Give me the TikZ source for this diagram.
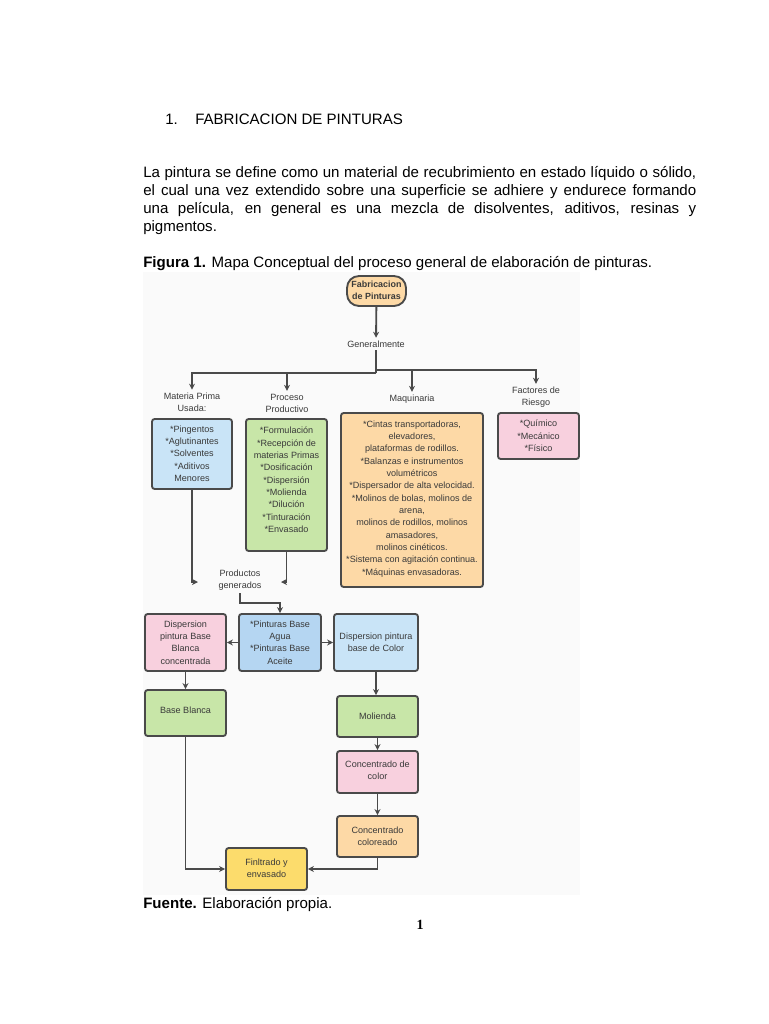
\documentclass[tikz,border=0pt]{standalone}
\usepackage{fontspec}
\setmainfont{Liberation Sans}
\newfontfamily\numfont{Liberation Serif}
\usetikzlibrary{arrows.meta,fit}
\definecolor{bord}{HTML}{4A4A4A}
\definecolor{txt}{HTML}{3A3A3A}
\definecolor{corange}{HTML}{FDD9A6}
\definecolor{cblue}{HTML}{C9E4F7}
\definecolor{cbluetwo}{HTML}{B5D6F2}
\definecolor{cgreen}{HTML}{C8E6A8}
\definecolor{cpink}{HTML}{F8D0DE}
\definecolor{cyellow}{HTML}{FCDC6C}
\definecolor{figbg}{HTML}{FAFAFA}
\begin{document}
\begin{tikzpicture}[x=0.75pt,y=-0.75pt,
  box/.style={draw=bord, line width=1.4pt, rounded corners=2pt, inner sep=0pt},
  btext/.style={align=center, inner sep=0pt, font=\fontsize{6.8}{9.25}\selectfont, text=txt},
  lbl/.style={align=center, inner sep=2pt, font=\fontsize{6.8}{9.1}\selectfont, text=txt},
  conn/.style={draw=bord, line width=1.4pt},
  arr/.style={conn, -{Stealth[length=4.5pt,width=4.5pt]}},
  body/.style={anchor=base west, inner sep=0pt, font=\fontsize{11.3}{13.5}\selectfont}
]
\useasboundingbox (0,0) rectangle (768,1024);
\fill[white] (0,0) rectangle (768,1024);
\fill[figbg] (143,272) rectangle (580,895);

% document text
\node[body] (num) at (165,124) {1.};
\node[body] (head) at (195,124) {FABRICACION DE PINTURAS};
\node[body] (p1) at (143,177) {\makebox[414.75pt][s]{La pintura se define como un material de recubrimiento en estado líquido o sólido,}};
\node[body] (p2) at (143,195) {\makebox[414.75pt][s]{el cual una vez extendido sobre una superficie se adhiere y endurece formando}};
\node[body] (p3) at (143,213) {\makebox[414.75pt][s]{una película, en general es una mezcla de disolventes, aditivos, resinas y}};
\node[body] (p4) at (143,231) {pigmentos.};
\node[body] (fig) at (143,267) {\textbf{Figura 1.} Mapa Conceptual del proceso general de elaboración de pinturas.};
\node[body] (src) at (143,908) {\textbf{Fuente.} Elaboración propia.};
\node[anchor=base, inner sep=0pt, font=\numfont\bfseries\fontsize{10.5}{12}\selectfont] (pg) at (420,929) {1};

% top of diagram
\node[box, rounded corners=9pt, fill=corange, fit={(347,276)(406,306)}] (fab) {};
\node[btext, font=\bfseries\fontsize{6.7}{9.2}\selectfont] (fabt) at ([yshift=0.6pt]fab.center) {Fabricacion\\de Pinturas};
\node[lbl] (gen) at (376,344) {Generalmente};
\draw[arr] (fab) -- (gen);
\coordinate (jl) at (376,373);
\coordinate (jr) at (376,370);
\draw[conn] (gen) -- (jl);

\node[lbl] (matl) at (192,402) {Materia Prima\\Usada:};
\node[lbl] (prol) at (287,403) {Proceso\\Productivo};
\node[lbl] (maql) at (412,399) {Maquinaria};
\node[lbl] (facl) at (536,397) {Factores de\\Riesgo};

\draw[arr] (jl) -| (matl.north);
\draw[arr] (jl) -| (prol.north);
\draw[arr] (jr) -| (maql.north);
\draw[arr] (jr) -| (facl.north);

\node[box, fill=cblue, fit={(152,419)(232,489)}] (mat) {};
\node[btext] (matt) at ([yshift=0.2pt]mat.center) {*Pingentos\\{}*Aglutinantes\\{}*Solventes\\{}*Aditivos\\Menores};
\node[box, fill=cgreen, fit={(246,419)(327,551)}] (pro) {};
\node[btext] (prot) at ([yshift=3.8pt]pro.center) {*Formulación\\{}*Recepción de\\materias Primas\\{}*Dosificación\\{}*Dispersión\\{}*Molienda\\{}*Dilución\\{}*Tinturación\\{}*Envasado};
\node[box, fill=corange, fit={(341,413)(483,587)}] (maq) {};
\node[btext] (maqt) at ([yshift=0.8pt]maq.center) {*Cintas transportadoras,\\elevadores,\\plataformas de rodillos.\\{}*Balanzas e instrumentos\\volumétricos\\{}*Dispersador de alta velocidad.\\{}*Molinos de bolas, molinos de\\arena,\\molinos de rodillos, molinos\\amasadores,\\molinos cinéticos.\\{}*Sistema con agitación continua.\\{}*Máquinas envasadoras.};
\node[box, fill=cpink, fit={(498,413)(579,459)}] (fac) {};
\node[btext] (fact) at ([yshift=0.2pt]fac.center) {*Químico\\{}*Mecánico\\{}*Físico};

% productos generados
\node[lbl] (prod) at (240,580) {Productos\\generados};
\coordinate (pgl) at (198,582);
\coordinate (pgr) at (281,582);
\coordinate (pk) at (240,603);
\draw[arr] (mat.south) |- (pgl);
\draw[arr] (pro.south) |- (pgr);

% second part
\node[box, fill=cpink, fit={(145,614)(226,671)}] (dbb) {};
\node[btext] (dbbt) at (dbb.center) {Dispersion\\pintura Base\\Blanca\\concentrada};
\node[box, fill=cbluetwo, fit={(239,614)(321,671)}] (pin) {};
\node[btext] (pint) at (pin.center) {*Pinturas Base\\Agua\\{}*Pinturas Base\\Aceite};
\node[box, fill=cblue, fit={(334,614)(418,671)}] (dbc) {};
\node[btext] (dbct) at (dbc.center) {Dispersion pintura\\base de Color};
\node[box, fill=cgreen, fit={(145,690)(226,736)}] (bbl) {};
\node[btext] (bblt) at ([yshift=2.2pt]bbl.center) {Base Blanca};
\node[box, fill=cgreen, fit={(337,696)(418,737)}] (mol) {};
\node[btext] (molt) at (mol.center) {Molienda};
\node[box, fill=cpink, fit={(337,751)(418,793)}] (ccl) {};
\node[btext] (cclt) at ([yshift=1.2pt]ccl.center) {Concentrado de\\color};
\node[box, fill=corange, fit={(337,816)(418,857)}] (cco) {};
\node[btext] (ccot) at ([yshift=0.4pt]cco.center) {Concentrado\\coloreado};
\node[box, fill=cyellow, fit={(226,848)(307,890)}] (fil) {};
\node[btext] (filt) at ([yshift=0.8pt]fil.center) {Finltrado y\\envasado};

\draw[arr] (prod.south) -- (pk) -| (pin.north);
\draw[arr] (pin.west) -- (dbb.east);
\draw[arr] (pin.east) -- (dbc.west);
\draw[arr] (dbb.south) -- (bbl.north);
\draw[arr] (dbc.south) -- (dbc.south |- mol.north);
\draw[arr] (mol.south) -- (ccl.north);
\draw[arr] (ccl.south) -- (cco.north);
\draw[arr] (bbl.south) |- (fil.west);
\draw[arr] (cco.south) |- (fil.east);
\end{tikzpicture}
\end{document}
